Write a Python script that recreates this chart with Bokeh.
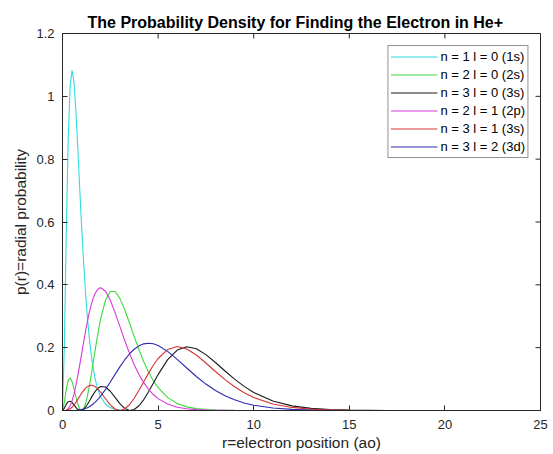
import math
from bokeh.plotting import figure
from bokeh.models import Range1d, FixedTicker, Legend, LegendItem
from bokeh.embed import file_html
from bokeh.resources import INLINE

# electron position r (a0)
r = [0, 0.1, 0.2, 0.3, 0.4, 0.5, 0.6, 0.7, 0.8, 0.9, 1.0, 1.1, 1.2, 1.3, 1.4, 1.5,
     1.6, 1.7, 1.8, 1.9, 2.0, 2.25, 2.5, 2.75, 3.0, 3.25, 3.5, 3.75, 4.0, 4.25, 4.5,
     4.75, 5.0, 5.5, 6.0, 6.5, 7.0, 7.5, 8.0, 8.5, 9.0, 9.5, 10, 11, 12, 13, 14, 15,
     17, 20, 25]

p_1s = [0, 0.2145, 0.5751, 0.8674, 1.0337, 1.0827, 1.0451, 0.9535, 0.8348, 0.7082,
        0.5861, 0.4754, 0.3792, 0.2983, 0.2319, 0.1785, 0.1361, 0.1030, 0.0774, 0.0578,
        0.0429, 0.0200, 0.0091, 0.0040, 0.0018, 0.0008, 0.0003, 0.0001, 0.0001, 0, 0,
        0, 0, 0, 0, 0, 0, 0, 0, 0, 0, 0, 0, 0, 0, 0, 0, 0, 0, 0, 0]

p_2s = [0, 0.0265, 0.0686, 0.0968, 0.1035, 0.0920, 0.0694, 0.0435, 0.0207, 0.0054,
        0, 0.0054, 0.0209, 0.0452, 0.0763, 0.1120, 0.1503, 0.1890, 0.2266, 0.2617,
        0.2931, 0.3515, 0.3790, 0.3786, 0.3570, 0.3216, 0.2793, 0.2353, 0.1932, 0.1553,
        0.1225, 0.0950, 0.0726, 0.0409, 0.0221, 0.0116, 0.0059, 0.0029, 0.0014, 0.0007,
        0.0003, 0.0002, 0.0001, 0, 0, 0, 0, 0, 0, 0, 0]

p_3s = [0, 0.0078, 0.0202, 0.0281, 0.0294, 0.0253, 0.0180, 0.0102, 0.0039, 0.0005,
        0.0004, 0.0039, 0.0104, 0.0191, 0.0294, 0.0401, 0.0505, 0.0598, 0.0674, 0.0730,
        0.0764, 0.0747, 0.0613, 0.0416, 0.0217, 0.0068, 0.0002, 0.0031, 0.0152, 0.0348,
        0.0595, 0.0868, 0.1143, 0.1620, 0.1924, 0.2030, 0.1965, 0.1779, 0.1528, 0.1257,
        0.0997, 0.0767, 0.0574, 0.0301, 0.0147, 0.0068, 0.0030, 0.0013, 0.0002, 0, 0]

p_2p = [0, 0.0001, 0.0014, 0.0059, 0.0153, 0.0307, 0.0521, 0.0790, 0.1103, 0.1446,
        0.1805, 0.2163, 0.2508, 0.2829, 0.3115, 0.3361, 0.3562, 0.3717, 0.3825, 0.3887,
        0.3907, 0.3796, 0.3509, 0.3116, 0.2677, 0.2236, 0.1825, 0.1458, 0.1145, 0.0885,
        0.0675, 0.0508, 0.0378, 0.0204, 0.0106, 0.0054, 0.0027, 0.0013, 0.0006, 0.0003,
        0.0001, 0.0001, 0, 0, 0, 0, 0, 0, 0, 0, 0]

p_3p = [0, 0.0000, 0.0005, 0.0021, 0.0053, 0.0104, 0.0175, 0.0260, 0.0355, 0.0453,
        0.0549, 0.0634, 0.0706, 0.0759, 0.0791, 0.0802, 0.0792, 0.0761, 0.0713, 0.0651,
        0.0578, 0.0373, 0.0181, 0.0048, 0, 0.0048, 0.0184, 0.0390, 0.0643, 0.0917,
        0.1190, 0.1441, 0.1655, 0.1944, 0.2036, 0.1959, 0.1767, 0.1513, 0.1242, 0.0983,
        0.0755, 0.0565, 0.0413, 0.0208, 0.0098, 0.0044, 0.0019, 0.0008, 0.0001, 0, 0]

p_3d = [0, 0, 0, 0, 0, 0.0001, 0.0002, 0.0005, 0.0009, 0.0017,
        0.0027, 0.0043, 0.0063, 0.0089, 0.0121, 0.0160, 0.0207, 0.0260, 0.0321, 0.0389,
        0.0463, 0.0672, 0.0906, 0.1150, 0.1389, 0.1609, 0.1799, 0.1950, 0.2058, 0.2121,
        0.2142, 0.2123, 0.2069, 0.1882, 0.1629, 0.1352, 0.1082, 0.0841, 0.0636, 0.0470,
        0.0340, 0.0241, 0.0169, 0.0079, 0.0035, 0.0015, 0.0006, 0.0002, 0, 0, 0]

series_labels = ["n = 1 l = 0 (1s)", "n = 2 l = 0 (2s)", "n = 3 l = 0 (3s)",
                 "n = 2 l = 1 (2p)", "n = 3 l = 1 (3s)", "n = 3 l = 2 (3d)"]
series_values = [p_1s, p_2s, p_3s, p_2p, p_3p, p_3d]
series_colors = ["#30DCDE", "#3CDA3C", "#1A1A1A", "#D838D8", "#D83434", "#2A2AB0"]

x_ticks = [0, 5, 10, 15, 20, 25]
y_ticks = [0, 0.2, 0.4, 0.6, 0.8, 1, 1.2]
y_tick_labels = ["0", "0.2", "0.4", "0.6", "0.8", "1", "1.2"]

FONT = "Liberation Sans"
AX = "#262626"

p = figure(width=553, height=454, output_backend="svg", toolbar_location=None,
           x_range=Range1d(x_ticks[0], x_ticks[-1]), y_range=Range1d(y_ticks[0], y_ticks[-1]),
           min_border_left=62, min_border_right=13, min_border_top=33, min_border_bottom=44,
           background_fill_color="white", border_fill_color="white")
p.grid.visible = False
p.outline_line_color = AX
p.outline_line_width = 1

p.title.text = "The Probability Density for Finding the Electron in He+"
p.title.text_font = FONT
p.title.text_font_size = "16px"
p.title.text_font_style = "bold"
p.title.text_color = "black"
p.title.align = "left"
p.title.offset = 25
p.title.standoff = 5

for ax, ticks in ((p.xaxis[0], x_ticks), (p.yaxis[0], y_ticks)):
    ax.ticker = FixedTicker(ticks=ticks)
    ax.axis_line_color = AX
    ax.major_tick_line_color = AX
    ax.major_tick_in = 5
    ax.major_tick_out = 0
    ax.minor_tick_line_color = None
    ax.major_label_text_font = FONT
    ax.major_label_text_font_size = "13px"
    ax.major_label_text_color = AX

p.yaxis[0].major_label_overrides = dict(zip(y_ticks, y_tick_labels))
p.xaxis[0].major_label_standoff = 9
p.yaxis[0].major_label_standoff = 8

for ax, lbl, st in ((p.xaxis[0], "r=electron position (ao)", 2),
                    (p.yaxis[0], "p(r)=radial probability", 4)):
    ax.axis_label = lbl
    ax.axis_label_text_font = FONT
    ax.axis_label_text_font_size = "15.5px"
    ax.axis_label_text_font_style = "normal"
    ax.axis_label_text_color = AX
    ax.axis_label_standoff = st

# inward ticks on the top and right edges of the box (clipped to the frame)
p.scatter(x=x_ticks, y=[y_ticks[-1]] * len(x_ticks), marker="dash", size=10,
          angle=math.pi / 2, line_color=AX, line_width=1)
p.scatter(x=[x_ticks[-1]] * len(y_ticks), y=y_ticks, marker="dash", size=10,
          line_color=AX, line_width=1)

items = []
for lbl, vals, col in zip(series_labels, series_values, series_colors):
    rend = p.line(r, vals, line_color=col, line_width=1.1)
    items.append(LegendItem(label=lbl, renderers=[rend]))

legend = Legend(items=items, location="top_right", margin=12, padding=2, spacing=1,
                glyph_width=47, glyph_height=17, label_height=17, label_standoff=3,
                label_text_font=FONT, label_text_font_size="13px", label_text_color="black",
                border_line_color=AX, border_line_width=1,
                background_fill_color="white", background_fill_alpha=1)
p.add_layout(legend)

open("out.html", "w").write(file_html(p, INLINE))
